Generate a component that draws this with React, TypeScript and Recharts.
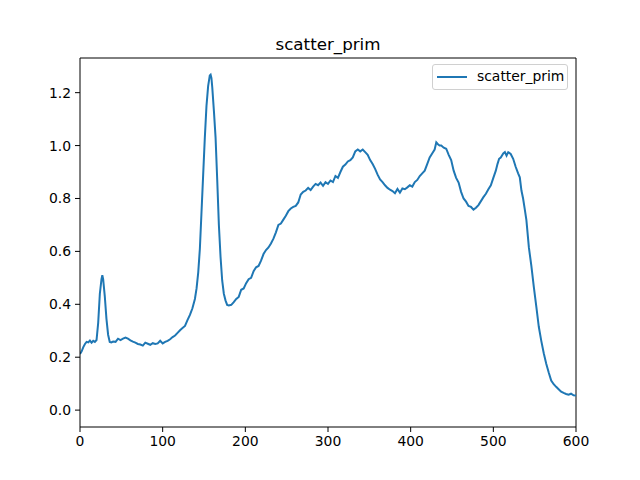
import React from "react";
import { LineChart, Line, XAxis, YAxis, Legend, ReferenceLine } from "recharts";

const xValues: number[] = [
  0, 2, 4, 6, 8, 10, 12, 14, 16, 18, 20, 22, 24, 26, 27, 28, 30, 32, 34, 36, 38, 40,
  43, 46, 49, 52, 55, 58, 61, 64, 67, 70, 73, 76, 79, 82, 85, 88, 91, 94, 97, 100,
  103, 106, 109, 112, 115, 118, 121, 124, 127, 130, 133, 136, 139, 141, 143, 145, 147,
  149, 151, 153, 155, 157, 158, 159, 160, 162, 164, 166, 168, 170, 172, 174, 176, 178,
  180, 183, 186, 189, 192, 195, 198, 201, 204, 207, 210, 213, 216, 219, 222, 225, 228,
  231, 234, 237, 240, 243, 246, 249, 252, 255, 258, 261, 264, 267, 270, 273, 276, 279,
  282, 285, 288, 291, 294, 297, 300, 303, 306, 309, 312, 315, 318, 321, 324, 327, 330,
  333, 336, 339, 342, 345, 348, 351, 354, 357, 360, 363, 366, 369, 372, 375, 378, 381,
  384, 387, 390, 393, 396, 399, 402, 405, 408, 411, 414, 417, 420, 423, 426, 429, 431,
  433, 435, 437, 440, 443, 446, 449, 452, 455, 458, 461, 464, 467, 470, 473, 476, 479,
  482, 485, 488, 491, 494, 497, 500, 503, 505, 507, 509, 512, 514, 516, 518, 521, 524,
  527, 530, 532, 534, 536, 538, 540, 543, 546, 549, 552, 555, 558, 561, 564, 567, 570,
  573, 576, 579, 582, 585, 588, 591, 594, 597, 600,
];

const scatterPrim: number[] = [
  0.212, 0.222, 0.238, 0.25, 0.258, 0.256, 0.263, 0.255, 0.262, 0.258, 0.265, 0.33, 0.44, 0.495, 0.51, 0.495, 0.43, 0.345, 0.285, 0.258, 0.256, 0.259,
  0.258, 0.27, 0.265, 0.27, 0.274, 0.27, 0.264, 0.259, 0.255, 0.25, 0.248, 0.244, 0.255, 0.251, 0.247, 0.253, 0.25, 0.252, 0.262, 0.252,
  0.258, 0.262, 0.268, 0.276, 0.282, 0.292, 0.302, 0.31, 0.318, 0.34, 0.36, 0.385, 0.42, 0.46, 0.52, 0.61, 0.75,
  0.89, 1.03, 1.15, 1.225, 1.265, 1.268, 1.255, 1.22, 1.13, 1.03, 0.87, 0.7, 0.58, 0.49, 0.44, 0.415, 0.398,
  0.396, 0.398, 0.408, 0.42, 0.428, 0.455, 0.46, 0.48, 0.495, 0.5, 0.525, 0.54, 0.545, 0.565, 0.59, 0.605, 0.615,
  0.63, 0.648, 0.672, 0.7, 0.705, 0.72, 0.735, 0.752, 0.762, 0.768, 0.772, 0.785, 0.815, 0.825, 0.83, 0.84, 0.832,
  0.845, 0.855, 0.85, 0.86, 0.848, 0.862, 0.855, 0.868, 0.862, 0.885, 0.878, 0.9, 0.92, 0.928, 0.94, 0.945, 0.955,
  0.978, 0.985, 0.978, 0.985, 0.975, 0.965, 0.945, 0.93, 0.912, 0.89, 0.872, 0.862, 0.85, 0.84, 0.833, 0.828, 0.82,
  0.836, 0.822, 0.838, 0.835, 0.842, 0.85, 0.845, 0.862, 0.87, 0.885, 0.895, 0.905, 0.93, 0.955, 0.97, 0.985, 1.012,
  1.005, 1.0, 1.0, 0.992, 0.988, 0.965, 0.945, 0.905, 0.878, 0.86, 0.825, 0.8, 0.788, 0.772, 0.768, 0.758, 0.765,
  0.775, 0.79, 0.805, 0.818, 0.835, 0.85, 0.878, 0.905, 0.93, 0.95, 0.955, 0.97, 0.975, 0.962, 0.975, 0.968, 0.95,
  0.92, 0.895, 0.88, 0.83, 0.8, 0.76, 0.718, 0.615, 0.545, 0.465, 0.391, 0.315, 0.262, 0.215, 0.175, 0.142, 0.112,
  0.098, 0.088, 0.079, 0.07, 0.065, 0.061, 0.058, 0.062, 0.056, 0.055,
];

const xTicks: number[] = [0, 100, 200, 300, 400, 500, 600];
const yTicks: number[] = [0, 0.2, 0.4, 0.6, 0.8, 1.0, 1.2];
const xDomain: [number, number] = [0, 600];
const yDomain: [number, number] = [-0.0638, 1.331];
const seriesName = "scatter_prim";
const titleText = "scatter_prim";

const data = xValues.map((x, i) => ({ x, scatter_prim: scatterPrim[i] }));

const FONT = "'DejaVu Sans', sans-serif";
const BLUE = "#1f77b4";

const LegendBox = () => (
  <div
    style={{
      position: "absolute",
      left: 432,
      top: 64,
      width: 136,
      height: 26,
      boxSizing: "border-box",
      border: "1px solid #d0d0d0",
      borderRadius: 3,
      background: "rgba(255,255,255,0.8)",
      fontFamily: FONT,
      fontSize: 13.9,
      color: "#000",
    }}
  >
    <svg width={40} height={24} style={{ position: "absolute", left: 0, top: 0 }}>
      <line x1={4} x2={34} y1={12} y2={12} stroke={BLUE} strokeWidth={2} />
    </svg>
    <span style={{ position: "absolute", left: 44, top: 3, whiteSpace: "nowrap" }}>{seriesName}</span>
  </div>
);

export default function App() {
  return (
    <div style={{ position: "absolute", left: 0, top: 0, width: 640, height: 480, background: "#fff" }}>
      <div
        style={{
          position: "absolute",
          left: 80,
          width: 496,
          top: 34,
          textAlign: "center",
          fontFamily: FONT,
          fontSize: 16.7,
          color: "#000",
        }}
      >
        {titleText}
      </div>
      <LineChart
        width={640}
        height={480}
        data={data}
        margin={{ top: 58, right: 64, bottom: 0, left: 0 }}
        style={{ fontFamily: FONT }}
      >
        <XAxis
          dataKey="x"
          type="number"
          domain={xDomain}
          ticks={xTicks}
          height={53}
          tickSize={5}
          tickMargin={4}
          axisLine={{ stroke: "#000", strokeWidth: 1 }}
          tickLine={{ stroke: "#000" }}
          tick={{ fill: "#000", fontSize: 13.9, fontFamily: FONT }}
          allowDataOverflow
        />
        <YAxis
          type="number"
          domain={yDomain}
          ticks={yTicks}
          width={80}
          tickSize={5}
          tickMargin={4}
          tickFormatter={(v: number) => v.toFixed(1)}
          axisLine={{ stroke: "#000", strokeWidth: 1 }}
          tickLine={{ stroke: "#000" }}
          tick={{ fill: "#000", fontSize: 13.9, fontFamily: FONT }}
          allowDataOverflow
        />
        <ReferenceLine y={yDomain[1]} stroke="#000" strokeWidth={1} ifOverflow="visible" />
        <ReferenceLine x={xDomain[1]} stroke="#000" strokeWidth={1} ifOverflow="visible" />
        <Legend content={() => <LegendBox />} wrapperStyle={{ position: "absolute", left: 0, top: 0, width: 0, height: 0 }} />
        <Line
          type="linear"
          dataKey="scatter_prim"
          name={seriesName}
          stroke={BLUE}
          strokeWidth={2}
          dot={false}
          activeDot={false}
          isAnimationActive={false}
        />
      </LineChart>
    </div>
  );
}
